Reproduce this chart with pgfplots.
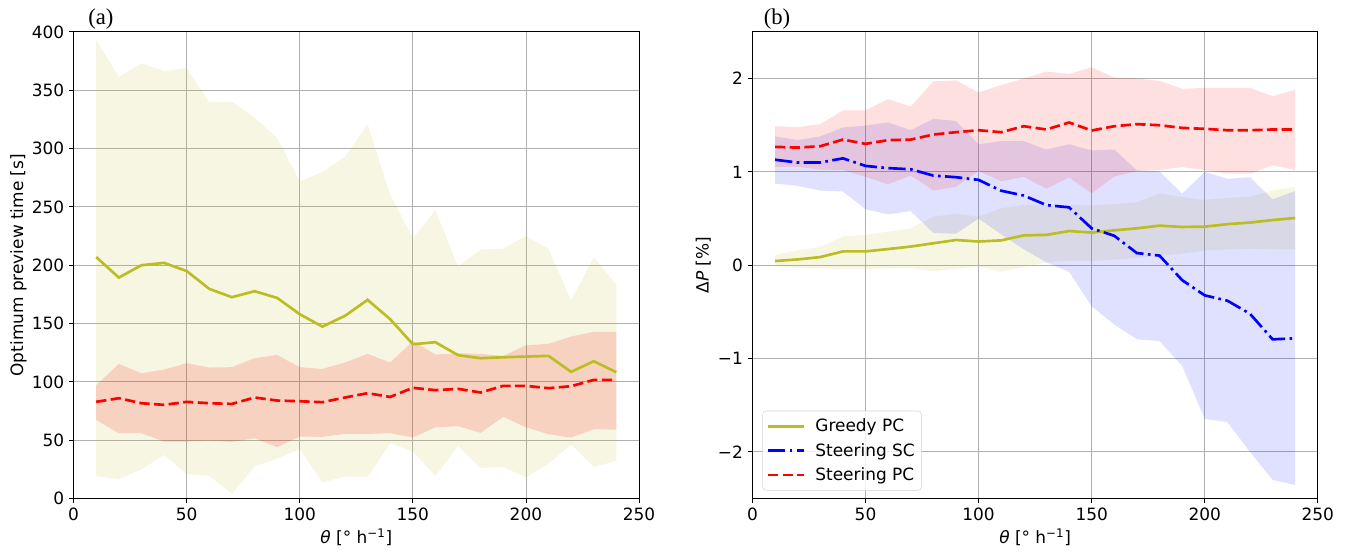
\documentclass[border=0pt]{standalone}
\usepackage{pgfplots}
\usepackage{pgfplotstable}
\pgfplotsset{compat=1.18}
\usepgfplotslibrary{fillbetween}
\usepackage{fontspec}
\setmainfont{DejaVu Sans}
\newfontfamily\serif{Liberation Serif}
\definecolor{olive}{HTML}{BCBD22}
\definecolor{gridc}{HTML}{B0B0B0}
\definecolor{legc}{HTML}{D5D5D5}

\pgfplotstableread{
x   gm     gu     gl    pm     pu     pl
10  207.0  393.0  19.4  82.9   97.1   67.4
20  189.4  361.4  16.6  86.0   115.4  56.0
30  200.0  373.0  25.0  81.7   107.4  56.0
40  202.0  366.3  37.4  80.3   110.6  48.9
50  195.0  369.0  20.9  82.9   116.0  48.9
60  179.7  339.7  19.4  81.7   112.3  49.7
70  172.6  340.0  4.0   81.1   112.6  48.6
80  177.7  326.6  27.4  86.6   120.3  51.7
90  172.0  309.0  34.3  84.0   123.1  44.0
100 158.0  272.0  42.3  83.4   112.6  53.1
110 147.4  280.0  13.7  82.6   111.1  52.9
120 156.6  292.9  18.9  86.6   116.6  55.4
130 170.3  320.9  18.3  90.3   124.0  55.4
140 153.7  260.0  47.4  87.1   116.6  56.0
150 132.3  223.4  40.3  94.9   135.1  52.3
160 134.0  247.0  19.4  92.9   123.4  61.1
170 122.9  199.0  45.1  94.0   124.6  62.0
180 120.3  213.4  26.3  90.9   124.0  56.3
190 121.1  214.3  27.1  96.6   122.3  70.0
200 121.7  224.9  18.3  96.6   131.4  61.1
210 122.3  214.3  29.7  94.6   132.6  55.1
220 108.6  169.7  46.3  96.3   138.9  52.3
230 117.7  206.9  27.1  101.7  142.9  59.4
240 108.3  183.4  32.3  101.7  142.9  59.1
}\lefttab

\pgfplotstableread{
x   gm     gu     gl      sm      su     sl      pm     pu     pl
10  0.045  0.110  -0.010  1.130   1.380  0.875   1.268  1.489  1.054
20  0.062  0.160  -0.030  1.100   1.340  0.850   1.260  1.479  1.054
30  0.087  0.195  -0.035  1.100   1.380  0.800   1.275  1.511  1.025
40  0.148  0.310  -0.040  1.145   1.475  0.790   1.346  1.660  1.020
50  0.148  0.325  -0.040  1.064   1.496  0.600   1.300  1.660  0.946
60  0.173  0.360  -0.035  1.040   1.530  0.545   1.340  1.780  0.868
70  0.200  0.395  -0.030  1.028   1.446  0.580   1.346  1.700  0.960
80  0.235  0.520  -0.065  0.960   1.568  0.345   1.400  1.970  0.800
90  0.270  0.550  -0.040  0.943   1.546  0.337   1.425  1.980  0.840
100 0.254  0.520  -0.010  0.914   1.296  0.500   1.446  1.850  1.010
110 0.266  0.610  -0.070  0.798   1.330  0.330   1.425  1.930  0.900
120 0.320  0.645  -0.020  0.746   1.330  0.170   1.489  2.000  0.946
130 0.325  0.645  0.030   0.644   1.240  0.030   1.454  2.075  0.820
140 0.366  0.645  0.050   0.620   1.296  -0.070  1.529  2.050  0.940
150 0.350  0.640  0.045   0.395   1.230  -0.440  1.443  2.120  0.770
160 0.374  0.655  0.060   0.315   1.240  -0.635  1.489  2.010  0.950
170 0.395  0.675  0.079   0.130   1.015  -0.794  1.511  2.000  1.010
180 0.424  0.770  0.100   0.103   1.005  -0.812  1.500  1.975  1.020
190 0.410  0.730  0.125   -0.160  0.765  -1.078  1.471  1.890  1.050
200 0.413  0.700  0.157   -0.323  1.000  -1.645  1.461  1.900  1.020
210 0.440  0.720  0.168   -0.380  0.925  -1.680  1.446  1.900  0.980
220 0.457  0.735  0.177   -0.520  0.943  -2.000  1.446  1.900  0.980
230 0.484  0.800  0.172   -0.794  0.706  -2.300  1.454  1.810  1.070
240 0.506  0.842  0.168   -0.784  0.796  -2.355  1.454  1.880  1.020
}\righttab

\pgfplotsset{
  mystyle/.style={
    scale only axis, width=424pt, height=350pt,
    xmin=0, xmax=250, xtick={0,50,...,250}, xticklabels={0,50,100,150,200,250},
    grid=major, major grid style={gridc, line width=0.6pt},
    tick align=outside, tick pos=left, major tick length=3.6pt,
    tick style={black, line width=0.6pt},
    axis line style={line width=0.6pt},
    ticklabel style={font=\fontsize{12.7}{15}\selectfont},
    label style={font=\fontsize{12.7}{15}\selectfont},
    xlabel={\textit{θ} [° h\textsuperscript{−1}]},
    xlabel style={at={(axis description cs:0.5,-0.083)}, anchor=center},
  },
  olivel/.style={olive, line width=2pt},
  redl/.style={red, line width=2pt, dash pattern=on 7.7pt off 3.3pt},
  bluel/.style={blue, line width=2pt, dash pattern=on 13pt off 3.3pt on 2pt off 3.3pt},
}

\begin{document}
\begin{tikzpicture}

\begin{axis}[mystyle, name=A,
  at={(0pt,0pt)}, anchor=south west,
  ymin=0, ymax=400, ytick={0,50,...,400},
  yticklabels={0,50,100,150,200,250,300,350,400},
  ylabel={Optimum preview time [s]},
  ylabel style={at={(axis description cs:-0.0975,0.5)}, anchor=center},
]
\addplot[draw=none, name path=GU, forget plot] table[x=x,y=gu]{\lefttab};
\addplot[draw=none, name path=GL, forget plot] table[x=x,y=gl]{\lefttab};
\addplot[fill=olive, fill opacity=0.13, draw=none, forget plot] fill between[of=GU and GL];
\addplot[draw=none, name path=PU, forget plot] table[x=x,y=pu]{\lefttab};
\addplot[draw=none, name path=PL, forget plot] table[x=x,y=pl]{\lefttab};
\addplot[fill=red, fill opacity=0.15, draw=none, forget plot] fill between[of=PU and PL];
\addplot[olivel] table[x=x,y=gm]{\lefttab};
\addplot[redl] table[x=x,y=pm]{\lefttab};
\end{axis}

\begin{axis}[mystyle, name=B,
  at={(509.1pt,0pt)}, anchor=south west,
  ymin=-2.5, ymax=2.5, ytick={-2,-1,0,1,2},
  yticklabels={−2,−1,0,1,2},
  ylabel={Δ\textit{P} [\%]},
  ylabel style={at={(axis description cs:-0.0867,0.5)}, anchor=center},
  legend style={at={(axis description cs:0.0177,0.0172)}, anchor=south west,
    draw=legc, rounded corners=2.5pt, fill=white, fill opacity=0.8,
    text opacity=1, font=\fontsize{12.7}{15}\selectfont, row sep=3pt,
    inner xsep=3pt, inner ysep=4pt,
    /tikz/every odd column/.append style={column sep=5.5pt}},
  legend cell align=left,
  legend image code/.code={\draw[#1] (0pt,0pt) -- (27pt,0pt);},
]
\addplot[draw=none, name path=RGU, forget plot] table[x=x,y=gu]{\righttab};
\addplot[draw=none, name path=RGL, forget plot] table[x=x,y=gl]{\righttab};
\addplot[fill=olive, fill opacity=0.13, draw=none, forget plot] fill between[of=RGU and RGL];
\addplot[draw=none, name path=RSU, forget plot] table[x=x,y=su]{\righttab};
\addplot[draw=none, name path=RSL, forget plot] table[x=x,y=sl]{\righttab};
\addplot[fill=blue, fill opacity=0.12, draw=none, forget plot] fill between[of=RSU and RSL];
\addplot[draw=none, name path=RPU, forget plot] table[x=x,y=pu]{\righttab};
\addplot[draw=none, name path=RPL, forget plot] table[x=x,y=pl]{\righttab};
\addplot[fill=red, fill opacity=0.12, draw=none, forget plot] fill between[of=RPU and RPL];
\addplot[olivel] table[x=x,y=gm]{\righttab};
\addlegendentry{Greedy PC}
\addplot[bluel] table[x=x,y=sm]{\righttab};
\addlegendentry{Steering SC}
\addplot[redl] table[x=x,y=pm]{\righttab};
\addlegendentry{Steering PC}
\end{axis}

\node[anchor=base west, font=\serif\fontsize{17}{19}\selectfont] at ([xshift=7.5pt,yshift=5.8pt]A.north west) {(a)};
\node[anchor=base west, font=\serif\fontsize{17}{19}\selectfont] at ([xshift=5pt,yshift=5.8pt]B.north west) {(b)};

\pgfresetboundingbox
\path[use as bounding box] (-55.2pt,-40.9pt) rectangle (958pt,373.9pt);
\end{tikzpicture}
\end{document}
